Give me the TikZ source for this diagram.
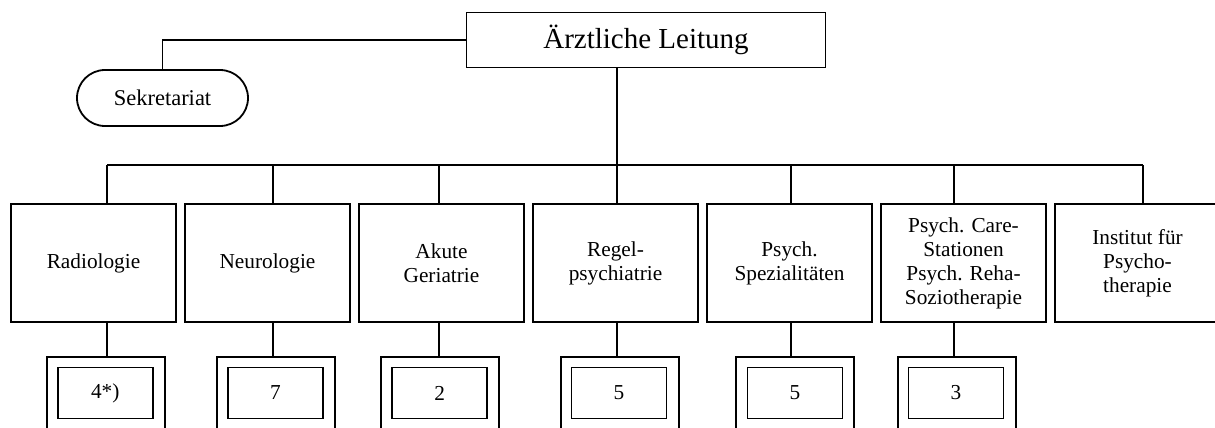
\documentclass[tikz,border=0pt]{standalone}
\usepackage{fontspec}
\setmainfont{Liberation Serif}

\begin{document}
\begin{tikzpicture}[x=1pt,y=-1pt,line width=1.8pt,
    abt/.style={draw,minimum width=165pt,minimum height=118pt,align=center,inner sep=2pt,font=\fontsize{21.3}{24}\selectfont},
    rahmen/.style={draw,minimum width=118pt,minimum height=86pt},
    zahl/.style={draw,minimum width=95pt,minimum height=51pt,font=\fontsize{21.3}{24}\selectfont}]

        % Bildgroesse festlegen
        \useasboundingbox (0,0) rectangle (1215,428);
        \clip (0,0) rectangle (1215,428);

        % Leitung und Sekretariat
        \node[draw,minimum width=359pt,minimum height=55pt,font=\fontsize{29}{32}\selectfont] (leitung) at (646,40) {Ärztliche Leitung};
        \node[draw,rounded corners=28pt,minimum width=171pt,minimum height=56pt,font=\fontsize{22.5}{25}\selectfont] (sekr) at (162.5,98) {Sekretariat};
        \draw (leitung.west) -| (sekr.north);

        % Abteilungen
        \node[abt] (radio) at (93.5,263) {Radiologie};
        \node[abt] (neuro) at (267.5,263) {Neurologie};
        \node[abt] (geri) at (441.5,263) {Akute\\Geriatrie};
        \node[abt] (regel) at (615.5,263) {Regel-\\psychiatrie};
        \node[abt] (spez) at (789.5,263) {Psych.\\Spezialitäten};
        \node[abt] (care) at (963.5,263) {Psych. Care-\\Stationen\\Psych. Reha-\\Soziotherapie};
        \node[abt] (inst) at (1137.5,263) {Institut für\\Psycho-\\therapie};

        % Stationen (Anzahl)
        \node[rahmen] (r1) at (105.7,400) {};
        \node[rahmen] (r2) at (276,400) {};
        \node[rahmen] (r3) at (440,400) {};
        \node[rahmen] (r4) at (620,400) {};
        \node[rahmen] (r5) at (795,400) {};
        \node[rahmen] (r6) at (956.7,400) {};
        \node[zahl] (z1) at (105.2,393) {4*)};
        \node[zahl] (z2) at (275.5,393) {7};
        \node[zahl] (z3) at (439.7,393) {2};
        \node[zahl] (z4) at (619,393) {5};
        \node[zahl] (z5) at (795,393) {5};
        \node[zahl] (z6) at (956,393) {3};

        % Verteiler
        \coordinate (t1) at (107,165);
        \coordinate (t2) at (273,165);
        \coordinate (t3) at (439,165);
        \coordinate (t4) at (617,165);
        \coordinate (t5) at (791,165);
        \coordinate (t6) at (954,165);
        \coordinate (t7) at (1143,165);
        \draw (leitung.south -| t4) -- (t4);
        \draw (t1) -- (t7);

        % Verbindungen zu den Abteilungen
        \draw (t1) -- (t1 |- radio.north);
        \draw (t2) -- (t2 |- neuro.north);
        \draw (t3) -- (t3 |- geri.north);
        \draw (t4) -- (t4 |- regel.north);
        \draw (t5) -- (t5 |- spez.north);
        \draw (t6) -- (t6 |- care.north);
        \draw (t7) -- (t7 |- inst.north);

        % Verbindungen zu den Stationen
        \draw (t1 |- radio.south) -- (t1 |- r1.north);
        \draw (t2 |- neuro.south) -- (t2 |- r2.north);
        \draw (t3 |- geri.south) -- (t3 |- r3.north);
        \draw (t4 |- regel.south) -- (t4 |- r4.north);
        \draw (t5 |- spez.south) -- (t5 |- r5.north);
        \draw (t6 |- care.south) -- (t6 |- r6.north);

    \end{tikzpicture}
\end{document}
